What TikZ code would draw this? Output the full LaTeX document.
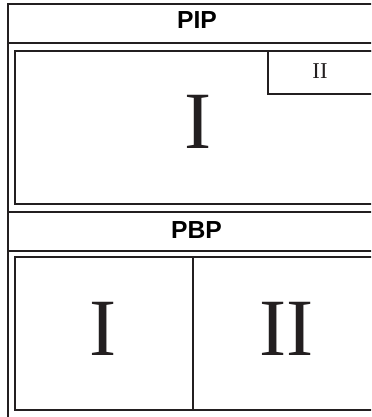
\documentclass[tikz,border=0pt]{standalone}
\usepackage{fontspec}
\setmainfont{Liberation Serif}
\setsansfont{Liberation Sans}

\tikzset{every picture/.style={line width=0.75pt}}
\tikzset{
  frame/.style={draw={rgb, 255:red, 35; green, 31; blue, 32 }, line width=1.1pt},
  head/.style={inner sep=0.75pt, font=\sffamily\bfseries\fontsize{18.5}{18.5}\selectfont},
  bigroman/.style={inner sep=0.75pt, text={rgb, 255:red, 35; green, 31; blue, 32 }, font=\fontsize{61}{61}\selectfont},
  smallroman/.style={inner sep=0.75pt, text={rgb, 255:red, 35; green, 31; blue, 32 }, font=\fontsize{17}{17}\selectfont}
}

\begin{document}
\begin{tikzpicture}[x=0.75pt,y=0.75pt,yscale=-1,xscale=1]
\useasboundingbox (0,0) rectangle (371,417);
\clip (0,0) rectangle (371,417);

%Straight Lines [id:outer frame]
\draw [frame]  (8,430) -- (8,4) -- (380,4) ;
%Straight Lines [id:pip head]
\draw [frame]  (8,43) -- (380,43) ;
%Shape: Rectangle [id:pip main]
\draw [frame]  (15,51) rectangle (380,204) ;
%Shape: Rectangle [id:pip sub]
\draw [frame]  (268,51) rectangle (380,94) ;
%Straight Lines [id:pbp head top]
\draw [frame]  (8,212) -- (380,212) ;
%Straight Lines [id:pbp head bottom]
\draw [frame]  (8,251) -- (380,251) ;
%Shape: Rectangle [id:pbp main]
\draw [frame]  (15,257) rectangle (380,410) ;
%Straight Lines [id:pbp divider]
\draw [frame, line width=0.8pt]  (193,257) -- (193,410) ;

% Text Node
\draw (197,20) node [head] (pipTitle) {PIP};
% Text Node
\draw (198,121.5) node [bigroman] (pipMain) {I};
% Text Node
\draw (320,71.5) node [smallroman] (pipSub) {II};
% Text Node
\draw (196.5,230.5) node [head] (pbpTitle) {PBP};
% Text Node
\draw (103,329) node [bigroman] (pbpLeft) {I};
% Text Node
\draw (286.5,329) node [bigroman] (pbpRight) {II};

\end{tikzpicture}
\end{document}
